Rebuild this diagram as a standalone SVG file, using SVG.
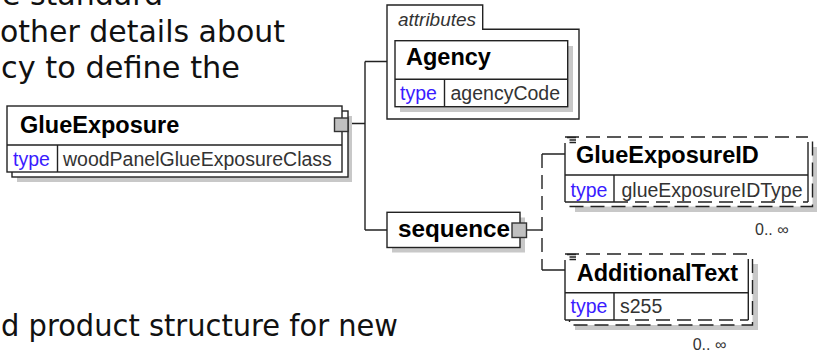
<svg xmlns="http://www.w3.org/2000/svg" width="817" height="354" viewBox="0 0 817 354">
<style>
.bg{font-family:"DejaVu Sans",Verdana,sans-serif;font-size:31px;fill:#111}
.title{font-family:"Liberation Sans",Arial,sans-serif;font-weight:bold;font-size:23.5px;fill:#000}
.lbl{font-family:"Liberation Sans",Arial,sans-serif;font-size:19.5px;fill:#3a1cff}
.val{font-family:"Liberation Sans",Arial,sans-serif;font-size:19.5px;fill:#333}
.ital{font-family:"Liberation Sans",Arial,sans-serif;font-style:italic;font-size:18px;fill:#333}
.occ{font-family:"Liberation Sans",Arial,sans-serif;font-size:16px;fill:#333}
.box{fill:#fff;stroke:#222;stroke-width:1.4}
.ln{fill:none;stroke:#222;stroke-width:1.4}
.dash{fill:none;stroke:#222;stroke-width:1.4;stroke-dasharray:14 7}
.shadow{fill:#c8c8c8}
.conn{fill:#c0c0c0;stroke:#333;stroke-width:1.4}
</style>

<g id="background-text">
<text class="bg" x="2" y="5" textLength="161" lengthAdjust="spacingAndGlyphs">e standard</text>
<text class="bg" x="0" y="42" textLength="285" lengthAdjust="spacingAndGlyphs">other details about</text>
<text class="bg" x="1" y="78" textLength="239" lengthAdjust="spacingAndGlyphs">cy to define the</text>
<text class="bg" x="1" y="336" textLength="397" lengthAdjust="spacingAndGlyphs">d product structure for new</text>
</g>

<g id="connectors">
<path class="ln" d="M348,123.5 H365 M365,61.5 V230 M365,61.5 H387 M365,230 H387"/>
<path class="ln" d="M526.5,230 H542"/>
<path class="dash" d="M542,154 V270"/>
<path class="ln" d="M542,154 H565 M542,270 H565"/>
</g>

<g id="GlueExposure">
<rect class="shadow" x="17" y="116" width="335" height="66"/>
<rect class="box" x="12" y="111" width="336" height="66"/>
<rect class="box" x="7" y="106" width="335" height="66"/>
<path class="ln" d="M7,145 H342 M57.5,145 V172"/>
<text class="title" x="20" y="132.5">GlueExposure</text>
<text class="lbl" x="13" y="165.5">type</text>
<text class="val" x="63" y="165.5">woodPanelGlueExposureClass</text>
<rect class="conn" x="334.5" y="118" width="13.5" height="13.5"/>
</g>

<g id="attributes">
<path class="box" d="M387,5 H482.7 V29.3 H579 V119 H387 Z"/>
<text class="ital" x="398" y="25.5" textLength="78" lengthAdjust="spacingAndGlyphs">attributes</text>
</g>

<g id="Agency">
<rect class="shadow" x="400" y="46" width="173" height="66"/>
<rect class="box" x="395" y="40.7" width="172.7" height="66"/>
<path class="ln" d="M395,79.3 H567.7 M444.5,79.3 V106.7"/>
<text class="title" x="406" y="65">Agency</text>
<text class="lbl" x="400" y="100">type</text>
<text class="val" x="450.5" y="100">agencyCode</text>
</g>

<g id="sequence">
<rect class="shadow" x="392" y="217.5" width="133" height="35"/>
<rect class="box" x="387" y="212.3" width="133" height="35.2"/>
<text class="title" x="398" y="237" textLength="112" lengthAdjust="spacingAndGlyphs">sequence</text>
<rect class="conn" x="512" y="223" width="14.5" height="14.5"/>
</g>

<g id="GlueExposureID">
<rect class="shadow" x="575" y="147" width="242" height="65"/>
<rect x="565" y="137" width="247.5" height="69.5" fill="#fff"/>
<path class="dash" d="M812.5,141.5 V206.5 H569.5 V202"/>
<path class="dash" d="M565,137 H808"/>
<path class="ln" d="M565,143 V202 M808,142 V202 M565,175 H808 M614,175 V202 M565,202 H614"/>
<path class="dash" d="M614,202 H808"/>
<path class="ln" d="M567,137.5 H576 M569.5,140 H576 M569.5,142.5 H576" stroke-width="1"/>
<text class="title" x="576" y="163.3">GlueExposureID</text>
<text class="lbl" x="570.5" y="196.5">type</text>
<text class="val" x="621.5" y="196.5">glueExposureIDType</text>
<text class="occ" x="755" y="235">0.. ∞</text>
</g>

<g id="AdditionalText">
<rect class="shadow" x="575" y="264" width="183" height="66"/>
<rect x="565" y="254" width="187.5" height="71" fill="#fff"/>
<path class="dash" d="M752.5,259 V325 H569.5 V320"/>
<path class="dash" d="M565,254 H748.3"/>
<path class="ln" d="M565,260 V320 M748.3,259 V320 M565,292.7 H748.3 M614,292.7 V320 M565,320 H614"/>
<path class="dash" d="M614,320 H748.3"/>
<path class="ln" d="M567,254.5 H576 M569.5,257 H576 M569.5,259.5 H576" stroke-width="1"/>
<text class="title" x="576.7" y="281">AdditionalText</text>
<text class="lbl" x="570.5" y="313.3">type</text>
<text class="val" x="620" y="313.3">s255</text>
<text class="occ" x="692.7" y="350">0.. ∞</text>
</g>
</svg>
